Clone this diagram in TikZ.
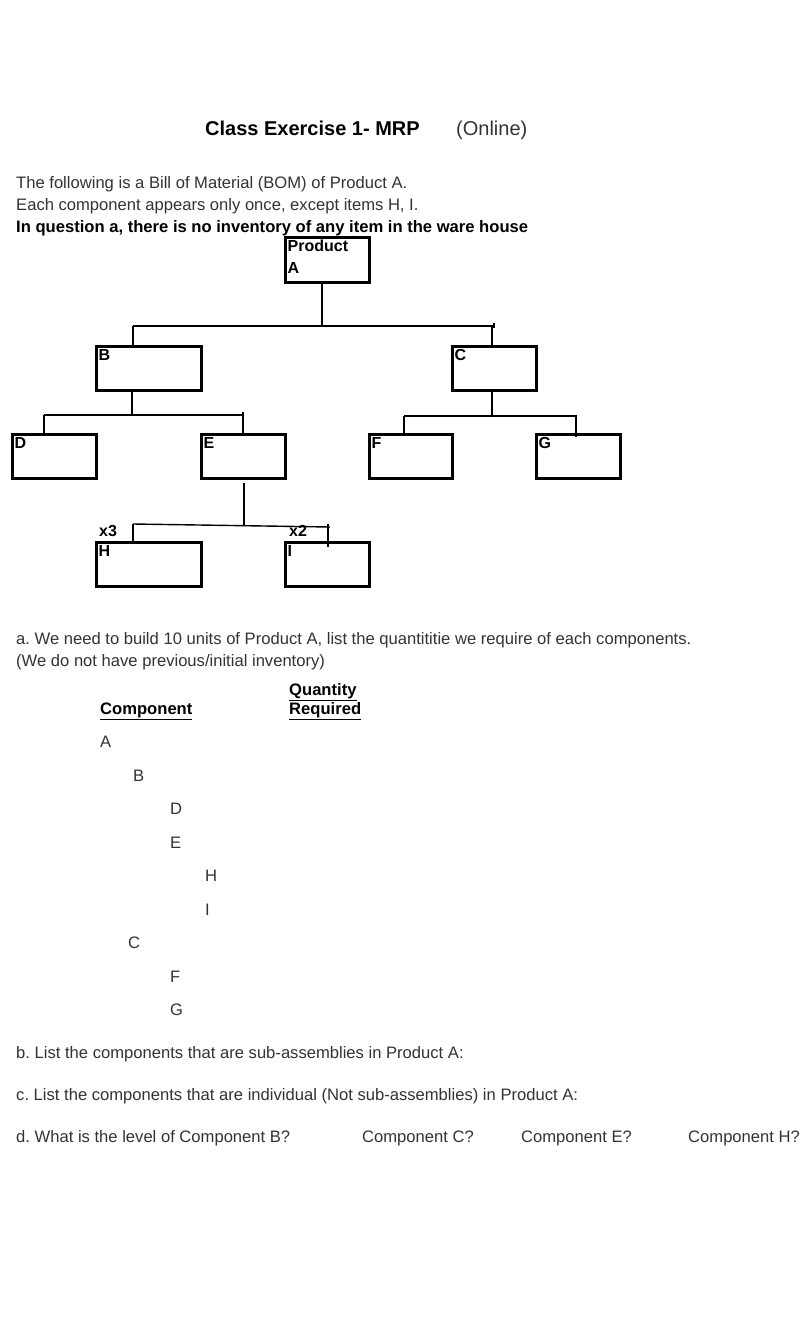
\documentclass[tikz,border=0pt]{standalone}
\usepackage{fontspec}
\setmainfont{Liberation Sans}
\usetikzlibrary{calc}
\definecolor{txt}{HTML}{333333}
\begin{document}
\frenchspacing
\begin{tikzpicture}[x=1pt,y=-1pt,
  body/.style={anchor=base west,inner sep=0,text=txt,font=\fontsize{16.6}{20}\selectfont},
  bbody/.style={anchor=base west,inner sep=0,text=black,font=\fontsize{16.6}{20}\selectfont\bfseries},
  bomboxstyle/.style={draw=black,line width=3pt,inner sep=0,minimum height=44pt},
  lbl/.style={anchor=base west,inner sep=0,font=\fontsize{16}{20}\selectfont\bfseries},
  conn/.style={draw=black,line width=1.4pt}]
\useasboundingbox[fill=white] (0,0) rectangle (807,1317);
% title
\node[anchor=base west,inner sep=0,text=black,font=\fontsize{20}{24}\selectfont\bfseries] (title) at (205,135) {Class Exercise 1- MRP};
\node[anchor=base west,inner sep=0,text=txt,font=\fontsize{20}{24}\selectfont] (online) at (456,135) {(Online)};
% intro
\node[body] (l1) at (16,188) {The following is a Bill of Material (BOM) of Product A.};
\node[body] (l2) at (16,210) {Each component appears only once, except items H, I.};
\node[bbody] (l3) at (16,232) {In question a, there is no inventory of any item in the ware house};
% boxes
\node[bomboxstyle,minimum width=84pt,minimum height=45pt] (A) at (327,259.5) {};
\node[bomboxstyle,minimum width=105pt] (B) at (148.5,368) {};
\node[bomboxstyle,minimum width=84pt] (C) at (494,368) {};
\node[bomboxstyle,minimum width=84pt] (D) at (54,456) {};
\node[bomboxstyle,minimum width=84pt] (E) at (243,456) {};
\node[bomboxstyle,minimum width=83pt] (F) at (410.5,456) {};
\node[bomboxstyle,minimum width=84pt] (G) at (578,456) {};
\node[bomboxstyle,minimum width=105pt] (H) at (148.5,564) {};
\node[bomboxstyle,minimum width=84pt] (I) at (327,564) {};
% box labels
\node[lbl] (Atxt) at ($(A.north west)+(4,16)$) {Product};
\node[lbl] (Atxt2) at ($(A.north west)+(4,38)$) {A};
\foreach \n in {B,C,D,E,F,G,H,I}{
  \node[lbl] (\n txt) at ($(\n.north west)+(4,16)$) {\n};
}
\node[lbl] (x3) at (99,536) {x3};
\node[lbl] (x2) at (289,536) {x2};
% connectors
\coordinate (jA) at (322,326);
\coordinate (bAL) at (133,326);
\coordinate (bAR) at (494,326);
\draw[conn] (A.south -| jA) -- (jA);
\draw[conn] (bAL) -- (bAR);
\draw[conn] (bAL) -- ($(bAL |- B.north)+(0,3)$);
\draw[conn] (492,326) -- ($(C.north -| 492,0)+(0,3)$);
\draw[conn] (494,323) -- (494,328);
\coordinate (jB) at (132,415);
\coordinate (bBL) at (44,415);
\coordinate (bBR) at (243,415);
\draw[conn] (B.south -| jB) -- (jB);
\draw[conn] (bBL) -- (bBR);
\draw[conn] (bBL) -- ($(bBL |- D.north)+(0,3)$);
\draw[conn] (243,412) -- ($(bBR |- E.north)+(0,3)$);
\coordinate (jC) at (492,416);
\coordinate (bCL) at (404,416);
\coordinate (bCR) at (577,416);
\draw[conn] (C.south -| jC) -- (jC);
\draw[conn] (bCL) -- (bCR);
\draw[conn] (bCL) -- ($(bCL |- F.north)+(0,3)$);
\draw[conn] (576,416) -- ($(G.north -| 576,0)+(0,4)$);
\coordinate (jE) at (244,526);
\coordinate (bEL) at (133,524);
\coordinate (bER) at (330,527);
\draw[conn] (244,483) -- (jE);
\draw[conn] (bEL) -- (bER);
\draw[conn] (bEL) -- ($(bEL |- H.north)+(0,3)$);
\draw[conn] (328,524) -- ($(I.north -| 328,0)+(0,6)$);
% question a
\node[body] (qa1) at (16,644) {a. We need to build 10 units of Product A, list the quantititie we require of each components.};
\node[body] (qa2) at (16,666) {(We do not have previous/initial inventory)};
\node[bbody] (hq1) at (289,695) {\underline{Quantity}};
\node[bbody] (hq2) at (289,714) {\underline{Required}};
\node[bbody] (hc) at (100,714) {\underline{Component}};
\node[body] (cA) at (100,747) {A};
\node[body] (cB) at (133,781) {B};
\node[body] (cD) at (170,814) {D};
\node[body] (cE) at (170,848) {E};
\node[body] (cH) at (205,881) {H};
\node[body] (cI) at (205,915) {I};
\node[body] (cC) at (128,948) {C};
\node[body] (cF) at (170,982) {F};
\node[body] (cG) at (170,1015) {G};
% b, c, d
\node[body] (qb) at (16,1058) {b. List the components that are sub-assemblies in Product A:};
\node[body] (qc) at (16,1100) {c. List the components that are individual (Not sub-assemblies) in Product A:};
\node[body] (qd) at (16,1142) {d. What is the level of Component B?};
\node[body] (qd2) at (362,1142) {Component C?};
\node[body] (qd3) at (521,1142) {Component E?};
\node[body] (qd4) at (688,1142) {Component H?};
\end{tikzpicture}
\end{document}
